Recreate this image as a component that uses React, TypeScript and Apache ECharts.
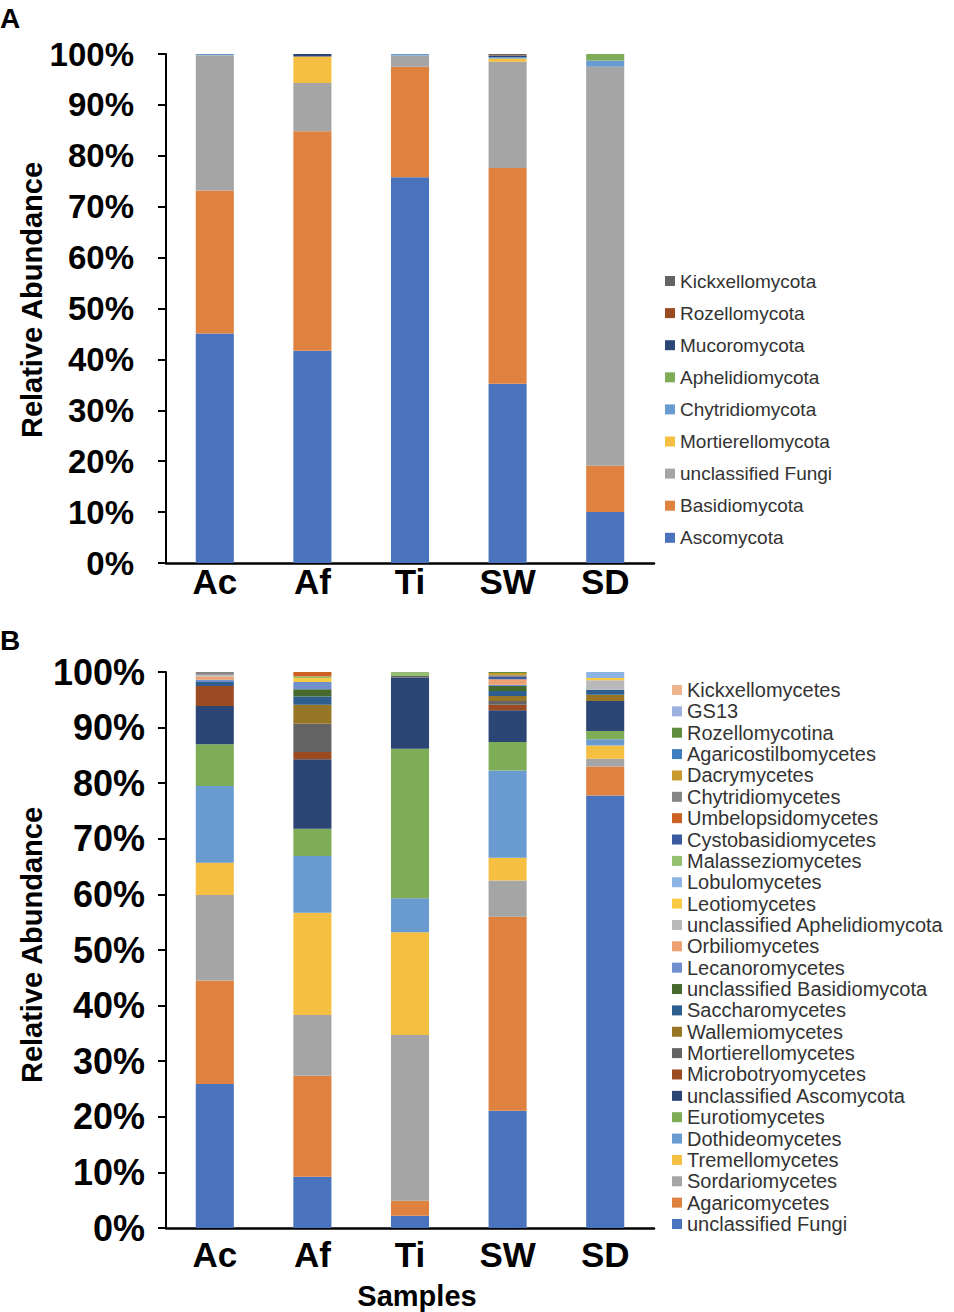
import React, { useEffect, useRef } from "react";
import * as echarts from "echarts";

// ---------- shared ----------
const samples = ["Ac", "Af", "Ti", "SW", "SD"];

// ---------- Panel A (phylum level), % per sample: Ac, Af, Ti, SW, SD ----------
const ascomycota = [45.1, 41.7, 75.8, 35.2, 10.0];
const basidiomycota = [28.1, 43.1, 21.7, 42.4, 9.1];
const unclassifiedFungiA = [26.4, 9.5, 2.2, 20.9, 78.4];
const mortierellomycota = [0.1, 5.2, 0, 0.6, 0];
const chytridiomycota = [0.3, 0, 0.3, 0.3, 1.2];
const aphelidiomycota = [0, 0, 0, 0, 1.3];
const mucoromycota = [0, 0.5, 0, 0.2, 0];
const rozellomycota = [0, 0, 0, 0.1, 0];
const kickxellomycota = [0, 0, 0, 0.3, 0];

const namesA = [
  "Ascomycota", "Basidiomycota", "unclassified Fungi", "Mortierellomycota",
  "Chytridiomycota", "Aphelidiomycota", "Mucoromycota", "Rozellomycota", "Kickxellomycota",
];
const valuesA = [
  ascomycota, basidiomycota, unclassifiedFungiA, mortierellomycota,
  chytridiomycota, aphelidiomycota, mucoromycota, rozellomycota, kickxellomycota,
];
const colorsA = [
  "#4A73BE", "#E0823F", "#A5A5A5", "#F5BF42", "#699BD0", "#7FAC57", "#2B4574", "#9B4B22", "#646464",
];

// ---------- Panel B (class level) ----------
const unclassifiedFungiB = [25.9, 9.2, 2.2, 21.1, 77.8];
const agaricomycetes = [18.6, 18.2, 2.7, 34.9, 5.2];
const sordariomycetes = [15.4, 10.9, 29.8, 6.5, 1.4];
const tremellomycetes = [5.8, 18.4, 18.5, 4.1, 2.4];
const dothideomycetes = [13.8, 10.2, 6.1, 15.7, 1.1];
const eurotiomycetes = [7.5, 4.9, 26.9, 5.1, 1.5];
const unclassifiedAscomycota = [6.9, 12.5, 12.8, 5.7, 5.4];
const microbotryomycetes = [3.6, 1.3, 0, 1.0, 0];
const mortierellomycetes = [0, 5.1, 0.3, 0.7, 0];
const wallemiomycetes = [0, 3.4, 0, 0.9, 1.1];
const saccharomycetes = [0.7, 1.5, 0, 0.9, 0.9];
const unclassifiedBasidiomycota = [0, 1.3, 0, 0.9, 0];
const lecanoromycetes = [0.4, 1.3, 0, 0.2, 0];
const orbiliomycetes = [0.6, 0, 0, 1.0, 0];
const unclassifiedAphelidiomycota = [0.3, 0, 0, 0, 1.7];
const leotiomycetes = [0, 0.7, 0, 0, 0.4];
const lobulomycetes = [0, 0, 0, 0, 1.3];
const malasseziomycetes = [0, 0.3, 0.6, 0, 0];
const cystobasidiomycetes = [0, 0, 0, 0.4, 0];
const umbelopsidomycetes = [0, 0.8, 0, 0, 0];
const chytridiomycetes = [0.5, 0, 0, 0.3, 0];
const dacrymycetes = [0, 0, 0, 0.4, 0];
const agaricostilbomycetes = [0, 0, 0, 0, 0];
const rozellomycotina = [0, 0, 0.2, 0.3, 0];
const gs13 = [0, 0, 0, 0, 0];
const kickxellomycetes = [0, 0, 0, 0, 0];

const namesB = [
  "unclassified Fungi", "Agaricomycetes", "Sordariomycetes", "Tremellomycetes",
  "Dothideomycetes", "Eurotiomycetes", "unclassified Ascomycota", "Microbotryomycetes",
  "Mortierellomycetes", "Wallemiomycetes", "Saccharomycetes", "unclassified Basidiomycota",
  "Lecanoromycetes", "Orbiliomycetes", "unclassified Aphelidiomycota", "Leotiomycetes",
  "Lobulomycetes", "Malasseziomycetes", "Cystobasidiomycetes", "Umbelopsidomycetes",
  "Chytridiomycetes", "Dacrymycetes", "Agaricostilbomycetes", "Rozellomycotina", "GS13",
  "Kickxellomycetes",
];
const valuesB = [
  unclassifiedFungiB, agaricomycetes, sordariomycetes, tremellomycetes,
  dothideomycetes, eurotiomycetes, unclassifiedAscomycota, microbotryomycetes,
  mortierellomycetes, wallemiomycetes, saccharomycetes, unclassifiedBasidiomycota,
  lecanoromycetes, orbiliomycetes, unclassifiedAphelidiomycota, leotiomycetes,
  lobulomycetes, malasseziomycetes, cystobasidiomycetes, umbelopsidomycetes,
  chytridiomycetes, dacrymycetes, agaricostilbomycetes, rozellomycotina, gs13,
  kickxellomycetes,
];
const colorsB = [
  "#4A73BE", "#E0823F", "#A5A5A5", "#F5BF42",
  "#699BD0", "#7FAC57", "#2B4574", "#9B4B22",
  "#646464", "#977626", "#2D5E8F", "#466A2E",
  "#6F8FCF", "#EDA070", "#B9B9B9", "#F9CB45",
  "#8DB4E2", "#94C16F", "#3A5BA0", "#CB6223",
  "#858585", "#C99A2E", "#3F7FBF", "#5E8D3E", "#9DB1E0",
  "#EDB48E",
];

const FONT = "'Liberation Sans', Arial, Helvetica, sans-serif";

function buildSeries(prefix: string, names: string[], values: number[][], colors: string[], idx: number) {
  return names.map((n, i) => ({
    name: prefix + n,
    type: "bar",
    stack: "stack" + prefix,
    xAxisIndex: idx,
    yAxisIndex: idx,
    barWidth: "39%",
    data: values[i],
    itemStyle: { color: colors[i] },
  }));
}

export default function App() {
  const ref = useRef<HTMLDivElement>(null);
  useEffect(() => {
    document.body.style.margin = "0";
    const chart = echarts.init(ref.current!, undefined, { renderer: "svg" });
    const stripPrefix = (name: string) => name.replace(/^[AB]\|/, "");
    const xAxisBase = (fontSize: number, margin: number) => ({
      type: "category",
      data: samples,
      axisLine: { show: true, lineStyle: { color: "#000", width: 2.5 } },
      axisTick: { show: false },
      axisLabel: { color: "#000", fontWeight: "bold", fontSize, fontFamily: FONT, margin },
      splitLine: { show: false },
    });
    const yAxisBase = (fontSize: number, margin: number) => ({
      type: "value",
      min: 0,
      max: 100,
      interval: 10,
      axisLine: { show: true, lineStyle: { color: "#000", width: 2 } },
      axisTick: { show: true, inside: false, length: 8, lineStyle: { color: "#000", width: 2 } },
      axisLabel: {
        color: "#000", fontWeight: "bold", fontSize, fontFamily: FONT, margin,
        formatter: "{value}%",
      },
      splitLine: { show: false },
    });
    const option = {
      animation: false,
      backgroundColor: "#fff",
      grid: [
        { left: 166, top: 54, width: 488, height: 509 },
        { left: 166, top: 672, width: 488, height: 556 },
      ],
      xAxis: [
        { ...xAxisBase(35, 1), gridIndex: 0 },
        { ...xAxisBase(35, 9), gridIndex: 1 },
      ],
      yAxis: [
        { ...yAxisBase(33, 32), gridIndex: 0 },
        { ...yAxisBase(36, 21), gridIndex: 1 },
      ],
      legend: [
        {
          orient: "vertical",
          left: 665,
          top: 271,
          padding: 0,
          itemWidth: 10,
          itemHeight: 10,
          itemGap: 12.1,
          icon: "rect",
          selectedMode: false,
          formatter: stripPrefix,
          textStyle: { fontSize: 19, lineHeight: 20, color: "#333", fontFamily: FONT },
          data: namesA.slice().reverse().map((n) => "A|" + n),
        },
        {
          orient: "vertical",
          left: 672,
          top: 680,
          padding: 0,
          itemWidth: 10,
          itemHeight: 10,
          itemGap: 1.36,
          icon: "rect",
          selectedMode: false,
          formatter: stripPrefix,
          textStyle: { fontSize: 20, lineHeight: 20, color: "#333", fontFamily: FONT },
          data: namesB.slice().reverse().map((n) => "B|" + n),
        },
      ],
      graphic: [
        { type: "text", left: 0, top: 4, style: { text: "A", font: `bold 28px ${FONT}`, fill: "#000" } },
        { type: "text", left: 0, top: 626, style: { text: "B", font: `bold 28px ${FONT}`, fill: "#000" } },
        {
          type: "text", x: 32, y: 300, rotation: Math.PI / 2,
          style: { text: "Relative Abundance", font: `bold 29px ${FONT}`, fill: "#000", align: "center", verticalAlign: "middle" },
        },
        {
          type: "text", x: 32, y: 945, rotation: Math.PI / 2,
          style: { text: "Relative Abundance", font: `bold 29px ${FONT}`, fill: "#000", align: "center", verticalAlign: "middle" },
        },
        {
          type: "text", x: 417, y: 1296,
          style: { text: "Samples", font: `bold 29px ${FONT}`, fill: "#000", align: "center", verticalAlign: "middle" },
        },
      ],
      series: [
        ...buildSeries("A|", namesA, valuesA, colorsA, 0),
        ...buildSeries("B|", namesB, valuesB, colorsB, 1),
      ],
    };
    chart.setOption(option as any);
    return () => chart.dispose();
  }, []);
  return <div ref={ref} style={{ width: 954, height: 1312 }} />;
}
